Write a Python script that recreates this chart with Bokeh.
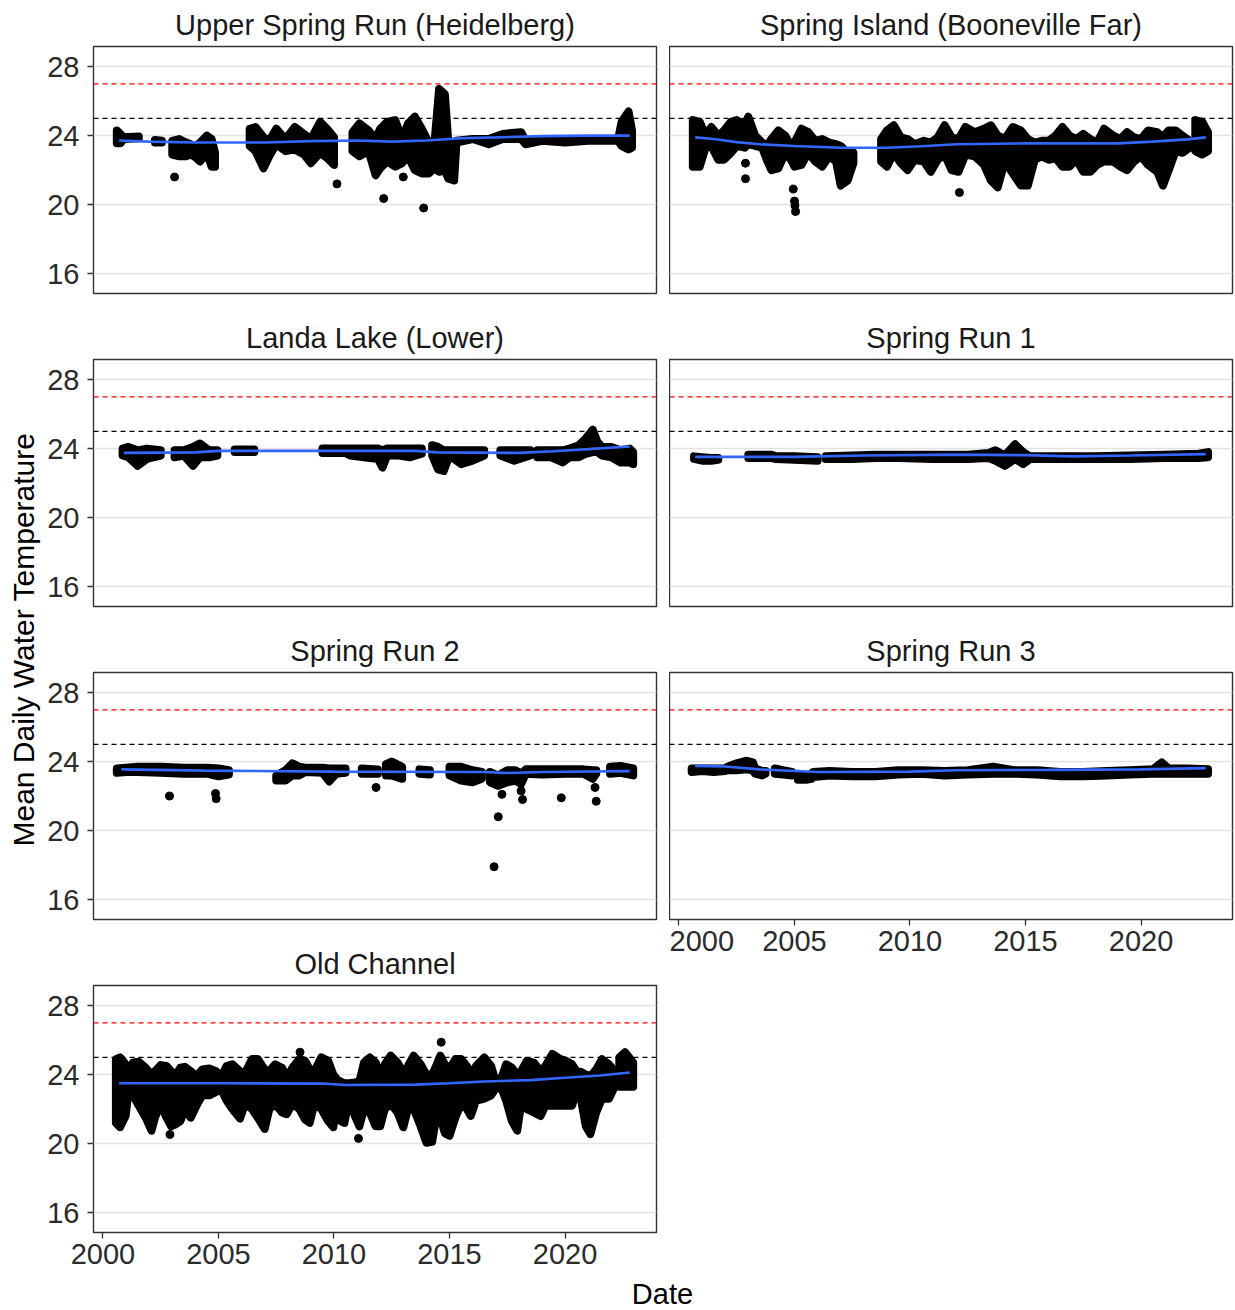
import math
from bokeh.plotting import figure
from bokeh.layouts import row, column
from bokeh.models import Span, Label, FixedTicker, Range1d, Grid
from bokeh.embed import file_html
from bokeh.resources import INLINE

# ---------------- data ----------------
X_TICKS = [2000, 2005, 2010, 2015, 2020]
Y_TICKS = [16, 20, 24, 28]
THRESH_BLACK = 25
THRESH_RED = 27
X_LABEL = "Date"
Y_LABEL = "Mean Daily Water Temperature"

SITES = ["Upper Spring Run (Heidelberg)", "Spring Island (Booneville Far)",
         "Landa Lake (Lower)", "Spring Run 1", "Spring Run 2", "Spring Run 3",
         "Old Channel"]

# bands: [date, low, high] envelope of the daily points; None = gap in record
HEID_BANDS = [
    [2000.60, 23.55, 24.30], [2000.75, 23.55, 24.10], [2000.90, 23.80, 23.90], [2001.55, 23.85, 23.95], None,
    [2002.25, 23.60, 23.75], [2002.55, 23.60, 23.70], None,
    [2003.00, 22.90, 23.70], [2003.30, 22.80, 23.80], [2003.60, 22.80, 23.60], [2003.80, 22.90, 23.50],
    [2003.95, 22.80, 23.30], [2004.20, 22.50, 23.60], [2004.50, 23.00, 24.00], [2004.70, 22.20, 23.80],
    [2004.85, 22.20, 23.00], None,
    [2006.35, 23.40, 24.40], [2006.60, 23.10, 24.50], [2006.95, 22.10, 23.90], [2007.20, 22.80, 23.70],
    [2007.50, 23.50, 24.40], [2007.90, 23.10, 23.80], [2008.30, 23.20, 24.50], [2008.70, 22.90, 24.10],
    [2009.00, 22.40, 23.80], [2009.40, 23.00, 24.80], [2009.70, 22.70, 24.40], [2010.00, 22.30, 23.90], None,
    [2010.80, 23.10, 24.20], [2011.10, 22.80, 24.70], [2011.50, 23.10, 24.30], [2011.80, 21.70, 23.80],
    [2012.00, 22.10, 24.40], [2012.30, 22.50, 24.80], [2012.65, 22.20, 24.90], [2012.95, 22.40, 23.80],
    [2013.20, 22.80, 24.70], [2013.50, 22.00, 25.10], [2013.80, 21.80, 24.40], [2014.10, 21.80, 23.60],
    [2014.35, 22.10, 23.60], [2014.55, 21.90, 26.70], [2014.80, 22.00, 26.40], [2014.95, 21.50, 23.60],
    [2015.20, 21.40, 23.50],
    [2015.30, 23.60, 23.70], [2016.00, 23.80, 23.80], [2016.70, 23.50, 23.80], [2017.30, 23.80, 24.10],
    [2018.10, 23.80, 24.20], [2018.30, 23.50, 23.70], [2019.00, 23.70, 23.80], [2020.00, 23.60, 23.80],
    [2021.00, 23.70, 23.80], [2022.30, 23.70, 23.80], [2022.45, 23.40, 24.80], [2022.75, 23.20, 25.40],
    [2022.90, 23.30, 24.30],
]
HEID_OUT_T = [2003.10, 2010.13, 2012.15, 2013.00, 2013.88]
HEID_OUT_V = [21.60, 21.20, 20.35, 21.60, 19.80]
HEID_FIT_T = [2000.7, 2002.0, 2004.0, 2007.0, 2009.0, 2011.0, 2012.5, 2014.0, 2015.5, 2017.0, 2019.0, 2021.0, 2022.8]
HEID_FIT_V = [23.72, 23.65, 23.60, 23.60, 23.68, 23.72, 23.65, 23.72, 23.85, 23.90, 23.97, 24.00, 24.00]

ISLAND_BANDS = [
    [2000.60, 22.20, 24.90], [2000.90, 22.20, 24.80], [2001.15, 23.30, 24.00], [2001.40, 23.40, 24.50],
    [2001.70, 22.60, 24.00], [2001.95, 22.60, 24.30], [2002.25, 23.00, 24.80], [2002.50, 23.40, 24.90],
    [2002.85, 23.30, 24.60], [2003.00, 23.50, 25.10], [2003.30, 23.40, 24.00], [2003.60, 23.30, 23.60],
    [2003.80, 22.60, 23.40], [2004.00, 22.00, 23.80], [2004.30, 22.10, 24.30], [2004.60, 23.00, 24.00],
    [2004.85, 22.60, 23.40], [2005.00, 22.20, 23.60], [2005.30, 22.30, 24.40], [2005.60, 23.00, 24.20],
    [2005.90, 22.50, 23.70], [2006.20, 22.20, 23.80], [2006.50, 22.80, 23.60], [2006.80, 22.50, 23.50],
    [2007.00, 21.10, 23.40], [2007.30, 21.40, 23.00], [2007.55, 22.40, 23.00], None,
    [2008.75, 22.50, 23.80], [2009.00, 22.20, 24.30], [2009.30, 23.00, 24.60], [2009.60, 22.40, 23.90],
    [2009.90, 22.00, 23.80], [2010.20, 22.60, 23.50], [2010.60, 22.50, 23.70], [2010.90, 21.90, 23.60],
    [2011.20, 22.60, 23.90], [2011.50, 22.90, 24.60], [2011.80, 22.00, 23.90], [2012.10, 21.90, 23.80],
    [2012.40, 22.90, 24.50], [2012.80, 22.80, 24.20], [2013.20, 22.30, 24.40], [2013.50, 21.40, 24.60],
    [2013.80, 21.00, 24.00], [2014.10, 22.50, 23.80], [2014.45, 21.80, 24.50], [2014.80, 21.10, 24.30],
    [2015.10, 21.10, 23.80], [2015.40, 22.60, 23.60], [2015.70, 22.80, 23.70], [2016.00, 22.60, 23.70],
    [2016.30, 22.70, 24.00], [2016.60, 22.20, 24.50], [2016.90, 22.20, 24.00], [2017.20, 22.60, 23.80],
    [2017.50, 21.90, 24.10], [2017.80, 21.90, 23.80], [2018.10, 22.30, 23.60], [2018.40, 22.50, 24.40],
    [2018.80, 22.50, 24.00], [2019.10, 22.20, 23.80], [2019.40, 22.00, 24.20], [2019.70, 22.50, 23.90],
    [2020.00, 22.80, 23.80], [2020.30, 22.30, 24.30], [2020.70, 21.90, 24.20], [2020.95, 21.10, 23.90],
    [2021.20, 22.00, 24.30], [2021.50, 23.10, 24.30], [2021.80, 23.00, 24.00], [2022.10, 23.30, 23.70], None,
    [2022.35, 23.10, 24.90], [2022.65, 22.90, 24.80], [2022.90, 23.10, 24.20],
]
ISLAND_OUT_T = [2002.88, 2002.88, 2004.95, 2005.00, 2005.02, 2005.05, 2012.14]
ISLAND_OUT_V = [22.40, 21.50, 20.90, 20.20, 19.95, 19.60, 20.70]
ISLAND_FIT_T = [2000.7, 2001.5, 2002.5, 2003.5, 2005.0, 2007.0, 2009.0, 2010.5, 2012.0, 2015.0, 2019.0, 2020.5, 2022.0, 2022.8]
ISLAND_FIT_V = [23.90, 23.80, 23.62, 23.50, 23.40, 23.30, 23.30, 23.38, 23.50, 23.55, 23.55, 23.65, 23.78, 23.90]

LANDA_BANDS = [
    [2000.85, 23.60, 24.00], [2001.10, 23.50, 24.10], [2001.50, 23.00, 23.90], [2001.90, 23.40, 24.00],
    [2002.50, 23.60, 23.90], None,
    [2003.10, 23.50, 23.90], [2003.50, 23.60, 23.90], [2003.90, 23.00, 24.10], [2004.20, 23.50, 24.30],
    [2004.60, 23.50, 23.90], [2004.95, 23.60, 23.90], None,
    [2005.70, 23.80, 23.95], [2006.55, 23.80, 23.95], None,
    [2009.50, 23.75, 24.00], [2010.50, 23.75, 24.00],
    [2010.70, 23.60, 24.00], [2011.30, 23.50, 24.00], [2011.90, 23.40, 24.00], [2012.10, 22.90, 23.90],
    [2012.30, 23.60, 24.00], [2012.80, 23.60, 24.00], [2013.30, 23.50, 24.00], [2013.80, 23.70, 24.00], None,
    [2014.25, 23.60, 24.20], [2014.50, 22.80, 24.10], [2014.75, 22.70, 23.90], [2015.00, 23.60, 23.90],
    [2015.50, 23.10, 23.90], [2016.00, 23.30, 23.90], [2016.50, 23.60, 23.90], None,
    [2017.20, 23.60, 23.90], [2017.80, 23.30, 23.90], [2018.50, 23.60, 23.90], None,
    [2018.80, 23.50, 23.90], [2019.40, 23.50, 23.90], [2019.90, 23.20, 23.90], [2020.20, 23.50, 24.00],
    [2020.60, 23.50, 24.20], [2020.90, 23.70, 24.60], [2021.20, 23.80, 25.10], [2021.40, 23.80, 24.40],
    [2021.60, 23.60, 24.10], [2022.00, 23.50, 24.10], [2022.40, 23.20, 23.90], [2022.80, 23.20, 24.00],
    [2022.95, 23.10, 23.80],
]
LANDA_OUT_T = []
LANDA_OUT_V = []
LANDA_FIT_T = [2000.9, 2004.0, 2005.0, 2013.5, 2014.5, 2018.0, 2019.5, 2021.0, 2022.8]
LANDA_FIT_V = [23.75, 23.78, 23.87, 23.87, 23.78, 23.75, 23.85, 23.97, 24.12]

RUN1_BANDS = [
    [2000.65, 23.40, 23.55], [2001.00, 23.30, 23.50], [2001.40, 23.30, 23.45], [2001.70, 23.35, 23.45], None,
    [2003.00, 23.45, 23.65], [2003.50, 23.45, 23.65], [2004.00, 23.45, 23.65],
    [2004.20, 23.40, 23.55], [2005.00, 23.35, 23.55], [2006.00, 23.30, 23.50], None,
    [2006.35, 23.40, 23.55], [2007.50, 23.40, 23.60], [2008.50, 23.45, 23.65], [2009.50, 23.45, 23.65],
    [2011.00, 23.40, 23.65], [2012.50, 23.40, 23.65], [2013.40, 23.45, 23.75], [2013.70, 23.30, 23.90],
    [2014.10, 23.00, 23.60], [2014.55, 23.40, 24.25], [2014.90, 23.10, 23.80], [2015.20, 23.40, 23.55],
    [2016.50, 23.40, 23.55], [2018.00, 23.40, 23.55], [2019.50, 23.40, 23.60], [2021.00, 23.45, 23.65],
    [2022.50, 23.45, 23.70], [2022.90, 23.50, 23.80],
]
RUN1_OUT_T = []
RUN1_OUT_V = []
RUN1_FIT_T = [2000.7, 2005.0, 2008.0, 2012.0, 2015.0, 2017.0, 2019.5, 2022.8]
RUN1_FIT_V = [23.52, 23.52, 23.60, 23.65, 23.62, 23.55, 23.60, 23.68]

RUN2_BANDS = [
    [2000.60, 23.35, 23.60], [2001.00, 23.40, 23.65], [2001.50, 23.40, 23.70], [2002.50, 23.35, 23.70],
    [2003.50, 23.30, 23.65], [2004.50, 23.30, 23.65], [2005.00, 23.15, 23.60], [2005.45, 23.25, 23.50], None,
    [2007.50, 22.90, 23.20], [2007.90, 22.90, 23.50], [2008.20, 23.20, 23.90], [2008.50, 23.20, 23.70],
    [2008.75, 23.40, 23.65], [2009.50, 23.35, 23.65], [2009.80, 22.85, 23.60], [2010.10, 23.30, 23.60],
    [2010.50, 23.35, 23.60], None,
    [2011.20, 23.30, 23.60], [2011.90, 23.30, 23.55], None,
    [2012.25, 23.20, 23.85], [2012.50, 23.20, 24.00], [2012.95, 23.00, 23.70], None,
    [2013.70, 23.30, 23.55], [2014.15, 23.25, 23.50], None,
    [2015.00, 23.20, 23.70], [2015.50, 22.90, 23.70], [2016.00, 22.80, 23.50], [2016.40, 23.00, 23.40], None,
    [2016.75, 22.80, 23.40], [2017.10, 22.60, 23.20], [2017.50, 22.80, 23.50], [2017.85, 22.90, 23.50],
    [2018.10, 22.70, 23.30],
    [2018.30, 23.30, 23.55], [2019.00, 23.25, 23.55], [2020.00, 23.30, 23.55], [2020.80, 23.30, 23.55],
    [2021.20, 23.00, 23.50], [2021.35, 23.30, 23.50], None,
    [2021.95, 23.30, 23.70], [2022.40, 23.35, 23.75], [2022.95, 23.20, 23.60],
]
RUN2_OUT_T = [2002.88, 2004.87, 2004.90, 2011.82, 2016.93, 2017.11, 2017.27, 2018.10, 2018.16, 2019.84, 2021.30, 2021.35]
RUN2_OUT_V = [22.00, 22.15, 21.85, 22.50, 17.90, 20.80, 22.10, 22.30, 21.80, 21.90, 22.50, 21.70]
RUN2_FIT_T = [2000.8, 2004.4, 2010.0, 2016.5, 2017.5, 2019.0, 2022.8]
RUN2_FIT_V = [23.55, 23.48, 23.42, 23.40, 23.34, 23.40, 23.45]

RUN3_BANDS = [
    [2000.55, 23.40, 23.60], [2001.00, 23.45, 23.60], [2001.50, 23.40, 23.60], [2002.00, 23.45, 23.60],
    [2002.10, 23.50, 23.70], [2002.50, 23.50, 23.90], [2002.90, 23.55, 24.05], [2003.20, 23.50, 23.95],
    [2003.30, 23.30, 23.60], [2003.60, 23.20, 23.45], [2003.75, 23.30, 23.45], None,
    [2004.15, 23.30, 23.60], [2004.50, 23.25, 23.50], [2004.90, 23.20, 23.40], None,
    [2005.15, 22.95, 23.30], [2005.50, 22.95, 23.20], [2005.75, 23.00, 23.30],
    [2005.80, 23.10, 23.40], [2006.50, 23.20, 23.45], [2007.50, 23.15, 23.40], [2008.50, 23.15, 23.40],
    [2009.50, 23.25, 23.50], [2010.50, 23.30, 23.50], [2011.50, 23.20, 23.45], [2012.50, 23.25, 23.50],
    [2013.60, 23.30, 23.70], [2014.50, 23.30, 23.50], [2015.50, 23.25, 23.50], [2016.50, 23.15, 23.40],
    [2017.50, 23.15, 23.40], [2018.50, 23.20, 23.45], [2019.50, 23.25, 23.50], [2020.50, 23.30, 23.55],
    [2020.90, 23.30, 23.95], [2021.20, 23.30, 23.60], [2022.00, 23.30, 23.60], [2022.90, 23.30, 23.55],
]
RUN3_OUT_T = []
RUN3_OUT_V = []
RUN3_FIT_T = [2000.7, 2002.0, 2003.5, 2006.0, 2010.0, 2012.0, 2016.0, 2020.0, 2022.8]
RUN3_FIT_V = [23.75, 23.72, 23.55, 23.40, 23.42, 23.50, 23.52, 23.55, 23.62]

OLD_BANDS = [
    [2000.56, 21.20, 24.90], [2000.74, 20.95, 25.00], [2000.98, 21.60, 24.60], [2001.12, 23.20, 24.10],
    [2001.30, 22.80, 24.70], [2001.55, 22.20, 24.75], [2001.85, 21.50, 24.40], [2002.10, 20.75, 24.00],
    [2002.25, 21.50, 24.20], [2002.50, 22.30, 24.55], [2002.75, 21.50, 24.50], [2002.95, 21.00, 24.20],
    [2003.12, 21.10, 23.90], [2003.35, 21.30, 24.40], [2003.55, 22.00, 24.45], [2003.80, 21.50, 24.20],
    [2004.05, 22.20, 23.90], [2004.30, 22.80, 24.30], [2004.60, 22.80, 24.35], [2004.90, 23.00, 24.20],
    [2005.10, 23.20, 23.80], [2005.35, 22.50, 24.50], [2005.60, 22.00, 24.60], [2005.93, 21.45, 24.20],
    [2006.15, 22.30, 24.10], [2006.45, 22.00, 24.90], [2006.70, 21.50, 24.90], [2007.00, 20.85, 24.30],
    [2007.20, 22.00, 24.20], [2007.45, 22.30, 24.60], [2007.75, 21.80, 24.40], [2007.95, 21.70, 23.80],
    [2008.20, 22.30, 24.40], [2008.50, 22.00, 24.90], [2008.75, 21.40, 24.80], [2008.95, 21.20, 24.30],
    [2009.15, 22.30, 24.20], [2009.45, 22.00, 25.00], [2009.75, 21.30, 24.80], [2009.97, 20.95, 24.00],
    [2010.15, 22.50, 23.70], [2010.30, 21.30, 23.60], [2010.45, 21.20, 23.50], [2010.65, 22.60, 23.50],
    [2010.90, 21.60, 23.55], [2011.10, 21.00, 23.60], [2011.30, 22.00, 24.70], [2011.55, 21.80, 25.00],
    [2011.80, 21.00, 24.70], [2012.00, 21.00, 24.00], [2012.20, 22.00, 24.60], [2012.45, 22.30, 25.10],
    [2012.75, 21.80, 24.70], [2013.00, 20.95, 24.10], [2013.20, 22.00, 24.50], [2013.45, 22.00, 25.10],
    [2013.75, 21.00, 24.60], [2014.00, 20.05, 24.00], [2014.25, 20.10, 24.00], [2014.45, 21.80, 24.60],
    [2014.60, 21.50, 25.10], [2014.80, 20.60, 24.60], [2015.00, 20.45, 24.30], [2015.25, 21.50, 24.90],
    [2015.50, 22.30, 24.90], [2015.75, 22.00, 24.50], [2015.92, 21.60, 24.00], [2016.15, 22.50, 24.50],
    [2016.50, 22.60, 25.00], [2016.80, 22.80, 24.50], [2017.00, 23.20, 23.60], [2017.25, 23.20, 23.80],
    [2017.45, 22.50, 24.60], [2017.70, 21.30, 24.40], [2017.93, 20.75, 24.00], [2018.10, 22.30, 24.20],
    [2018.35, 22.00, 24.80], [2018.65, 21.80, 24.70], [2018.94, 21.60, 24.20], [2019.15, 22.20, 24.50],
    [2019.45, 22.20, 25.20], [2019.80, 22.20, 24.90], [2020.05, 22.20, 24.80], [2020.30, 22.20, 24.60],
    [2020.50, 23.00, 24.20], [2020.70, 22.50, 24.15], [2020.90, 21.00, 24.00], [2021.10, 20.55, 23.90],
    [2021.35, 21.80, 24.30], [2021.60, 22.60, 24.90], [2021.90, 22.60, 24.60], [2022.15, 23.30, 24.20], None,
    [2022.35, 23.30, 25.00], [2022.60, 23.30, 25.30], [2022.95, 23.30, 24.70],
]
OLD_OUT_T = [2002.90, 2008.53, 2011.06, 2014.64]
OLD_OUT_V = [20.53, 25.30, 20.30, 25.88]
OLD_FIT_T = [2000.7, 2005.0, 2009.5, 2010.5, 2013.5, 2015.0, 2016.5, 2018.5, 2020.0, 2021.5, 2022.8]
OLD_FIT_V = [23.50, 23.50, 23.48, 23.40, 23.42, 23.50, 23.60, 23.68, 23.82, 23.95, 24.12]

# ---------------- styling ----------------
FONT = "Liberation Sans"
X_START, X_END = 1999.59, 2023.96
Y_START, Y_END = 14.84, 29.17
FRAME_W, FRAME_H = 563, 247
TOP_B, BOT_B, AXIS_B = 46, 20, 44


def bands_to_polys(bands):
    xs, ys, seg = [], [], []
    for b in list(bands) + [None]:
        if b is None:
            if seg:
                xs.append([r[0] for r in seg] + [r[0] for r in reversed(seg)])
                ys.append([r[2] for r in seg] + [r[1] for r in reversed(seg)])
            seg = []
        else:
            seg.append(b)
    return xs, ys


def panel(name, bands, out_t, out_v, fit_t, fit_v, left, bottom):
    p = figure(frame_width=FRAME_W, frame_height=FRAME_H,
               x_range=Range1d(X_START, X_END), y_range=Range1d(Y_START, Y_END),
               x_axis_location="below" if bottom else None,
               y_axis_location="left" if left else None,
               toolbar_location=None, output_backend="svg", title=name,
               min_border_left=51 if left else 0, min_border_right=13 if left else 2,
               min_border_top=TOP_B, min_border_bottom=AXIS_B if bottom else BOT_B,
               background_fill_color="white", border_fill_color="white",
               outline_line_color="#333333", outline_line_width=1.4)
    p.xgrid.grid_line_color = None
    p.ygrid.grid_line_color = None
    p.add_layout(Grid(dimension=1, ticker=FixedTicker(ticks=Y_TICKS),
                      grid_line_color="#e2e2e2", grid_line_width=1.5))

    p.title.align = "center"
    p.title.text_font = FONT
    p.title.text_font_size = "29px"
    p.title.text_font_style = "normal"
    p.title.text_color = "#1a1a1a"
    p.title.standoff = 12

    for ax in p.yaxis:
        ax.ticker = FixedTicker(ticks=Y_TICKS)
    for ax in p.xaxis:
        ax.ticker = FixedTicker(ticks=X_TICKS)
    for ax in list(p.xaxis) + list(p.yaxis):
        ax.axis_line_color = None
        ax.major_tick_out = 6
        ax.major_tick_in = 0
        ax.minor_tick_out = 0
        ax.minor_tick_in = 0
        ax.major_tick_line_color = "#333333"
        ax.major_tick_line_width = 1.3
        ax.major_label_text_font = FONT
        ax.major_label_text_font_size = "29px"
        ax.major_label_text_color = "#2b2b2b"
        ax.major_label_standoff = 5
    for ax in p.yaxis:
        ax.major_label_standoff = 8

    xs, ys = bands_to_polys(bands)
    p.patches(xs, ys, fill_color="black", line_color="black", line_width=8, line_join="round")
    if out_t:
        p.scatter(out_t, out_v, size=8, color="black")
    p.line(fit_t, fit_v, line_color="#3366FF", line_width=2.6)

    p.add_layout(Span(location=THRESH_BLACK, dimension="width", line_color="black",
                      line_dash="5 4", line_width=1.3))
    p.add_layout(Span(location=THRESH_RED, dimension="width", line_color="#ff0000",
                      line_dash="5 4", line_width=1.3))
    return p


p1 = panel(SITES[0], HEID_BANDS, HEID_OUT_T, HEID_OUT_V, HEID_FIT_T, HEID_FIT_V, True, False)
p2 = panel(SITES[1], ISLAND_BANDS, ISLAND_OUT_T, ISLAND_OUT_V, ISLAND_FIT_T, ISLAND_FIT_V, False, False)
p3 = panel(SITES[2], LANDA_BANDS, LANDA_OUT_T, LANDA_OUT_V, LANDA_FIT_T, LANDA_FIT_V, True, False)
p4 = panel(SITES[3], RUN1_BANDS, RUN1_OUT_T, RUN1_OUT_V, RUN1_FIT_T, RUN1_FIT_V, False, False)
p5 = panel(SITES[4], RUN2_BANDS, RUN2_OUT_T, RUN2_OUT_V, RUN2_FIT_T, RUN2_FIT_V, True, False)
p6 = panel(SITES[5], RUN3_BANDS, RUN3_OUT_T, RUN3_OUT_V, RUN3_FIT_T, RUN3_FIT_V, False, True)
p7 = panel(SITES[6], OLD_BANDS, OLD_OUT_T, OLD_OUT_V, OLD_FIT_T, OLD_FIT_V, True, True)

LEFT_H = 3 * (TOP_B + FRAME_H + BOT_B) + (TOP_B + FRAME_H + AXIS_B)
YL_W = 42

yl = figure(width=YL_W, height=LEFT_H, x_range=Range1d(0, YL_W), y_range=Range1d(0, LEFT_H),
            x_axis_location=None, y_axis_location=None, toolbar_location=None,
            output_backend="svg", min_border=0, outline_line_color=None)
yl.grid.visible = False
yl.add_layout(Label(x=23, y=LEFT_H - 639, text=Y_LABEL, angle=math.pi / 2,
                    text_align="center", text_baseline="middle", text_font=FONT,
                    text_font_size="30px", text_color="black"))

TOTAL_W = YL_W + 627 + 565
XL_H = 34
xl = figure(width=TOTAL_W, height=XL_H, x_range=Range1d(0, TOTAL_W), y_range=Range1d(0, XL_H),
            x_axis_location=None, y_axis_location=None, toolbar_location=None,
            output_backend="svg", min_border=0, outline_line_color=None)
xl.grid.visible = False
xl.add_layout(Label(x=662, y=17, text=X_LABEL, text_align="center", text_baseline="middle",
                    text_font=FONT, text_font_size="29px", text_color="black"))

layout = column(row(yl, column(p1, p3, p5, p7), column(p2, p4, p6)), xl)

with open("out.html", "w") as f:
    f.write(file_html(layout, INLINE))
